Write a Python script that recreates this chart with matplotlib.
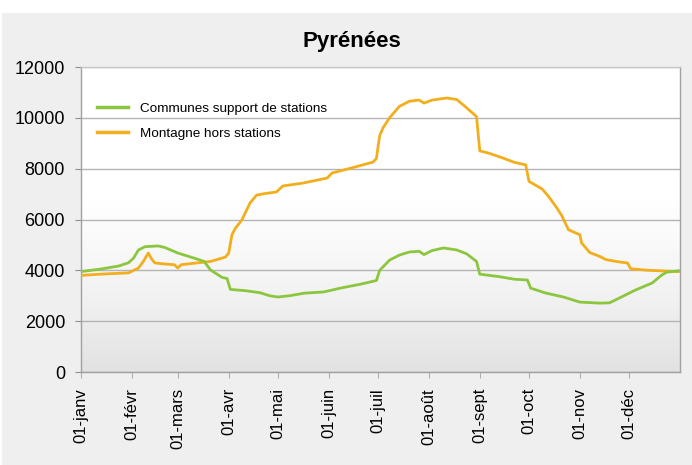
import numpy as np
import matplotlib
matplotlib.use("Agg")
import matplotlib.pyplot as plt
from matplotlib.patches import Rectangle
from matplotlib.colors import LinearSegmentedColormap

plt.rcParams['font.family'] = ['Liberation Sans', 'DejaVu Sans']

title = "Pyrénées"
month_days = [0, 31, 59, 90, 120, 151, 181, 212, 243, 273, 304, 334]
month_labels = ['01-janv', '01-févr', '01-mars', '01-avr', '01-mai', '01-juin',
                '01-juil', '01-août', '01-sept', '01-oct', '01-nov', '01-déc']

# Montagne hors stations
orange_days = [0, 12, 29, 35, 38, 41, 43, 45, 51, 57, 59, 61, 69, 79, 88, 90, 92, 94,
               98, 103, 107, 112, 119, 123, 135, 150, 153, 165, 178, 180, 182, 184,
               188, 194, 200, 206, 209, 214, 223, 229, 234, 241, 243, 249, 257, 264,
               271, 273, 281, 285, 290, 293, 297, 304, 305, 310, 316, 320, 328, 333,
               335, 346, 364]
orange_vals = [3800, 3850, 3900, 4090, 4350, 4680, 4450, 4290, 4250, 4220, 4090, 4220,
               4280, 4350, 4520, 4680, 5400, 5650, 5980, 6650, 6960, 7020, 7080, 7320,
               7430, 7630, 7830, 8030, 8260, 8400, 9300, 9600, 10000, 10450, 10650,
               10700, 10580, 10700, 10780, 10720, 10450, 10050, 8700, 8600, 8420, 8250,
               8150, 7500, 7200, 6900, 6450, 6150, 5600, 5400, 5080, 4700, 4550, 4420,
               4330, 4290, 4060, 4000, 3950]

# Communes support de stations
green_days = [0, 12, 23, 29, 32, 35, 39, 47, 51, 59, 69, 75, 79, 86, 89, 91, 100, 109,
              115, 120, 127, 136, 148, 158, 170, 180, 182, 188, 194, 200, 206, 209,
              214, 221, 229, 235, 241, 243, 255, 264, 272, 274, 283, 294, 304, 316,
              322, 328, 338, 348, 354, 357, 364]
green_vals = [3950, 4050, 4170, 4300, 4480, 4800, 4930, 4960, 4900, 4680, 4480, 4350,
              4010, 3720, 3680, 3250, 3200, 3120, 3000, 2950, 3000, 3100, 3150, 3300,
              3450, 3600, 4000, 4400, 4600, 4720, 4750, 4620, 4780, 4880, 4800, 4650,
              4350, 3850, 3750, 3650, 3620, 3300, 3110, 2950, 2750, 2710, 2720, 2910,
              3230, 3500, 3820, 3930, 3980]

series_names = ["Communes support de stations", "Montagne hors stations"]
green = '#8cc63e'
orange = '#f2ae1c'

fig = plt.figure(figsize=(6.92, 4.65), dpi=100, facecolor='white')
fig.patches.append(Rectangle((0.003, 0), 0.997, 1 - 13 / 465, transform=fig.transFigure,
                             facecolor='#efefef', edgecolor='none', zorder=-10))

ax = fig.add_axes([81 / 692, 1 - 372 / 465, (680 - 81) / 692, (372 - 67) / 465])
ax.set_xlim(0, 365)
ax.set_ylim(0, 12000)

# gradient background
t = np.linspace(0, 1, 256).reshape(-1, 1)
cmap = LinearSegmentedColormap.from_list('g', ['#ffffff', '#ffffff', '#f3f3f3', '#e2e2e2'])
ax.imshow(t ** 1.3, aspect='auto', cmap=cmap, extent=[0, 1, 0, 1],
          transform=ax.transAxes, zorder=0, origin='upper')

ax.set_yticks(range(0, 12001, 2000))
ax.yaxis.grid(True, color='#b4b4b4', linewidth=1.0, zorder=1)
ax.set_axisbelow(True)

ax.plot(orange_days, orange_vals, color=orange, linewidth=2.0, zorder=3,
        label=series_names[1])
ax.plot(green_days, green_vals, color=green, linewidth=2.0, zorder=4,
        label=series_names[0])

ax.set_xticks(month_days)
ax.set_xticklabels(month_labels, rotation=90, fontsize=12)
ax.tick_params(axis='y', labelsize=13, length=4, color='#909090', pad=7.5)
ax.tick_params(axis='x', length=4, color='#b0b0b0', pad=7.5)

for s in ['left', 'bottom', 'right', 'top']:
    ax.spines[s].set_color('#a0a0a0')
    ax.spines[s].set_linewidth(1.0)
ax.spines['top'].set_color('#c8c8c8')

h, l = ax.get_legend_handles_labels()
leg = ax.legend([h[1], h[0]], [l[1], l[0]], loc='upper left',
                bbox_to_anchor=(0.027, 0.885), frameon=False, fontsize=9.7,
                borderpad=0, borderaxespad=0, handlelength=2.3, handletextpad=0.9,
                labelspacing=0.95)
for lh in leg.get_lines():
    lh.set_linewidth(2.5)

fig.text(0.508, 1 - 42 / 465, title, ha='center', va='center', fontsize=16,
         fontweight='bold')

fig.savefig('out.png', dpi=100, facecolor=fig.get_facecolor())
